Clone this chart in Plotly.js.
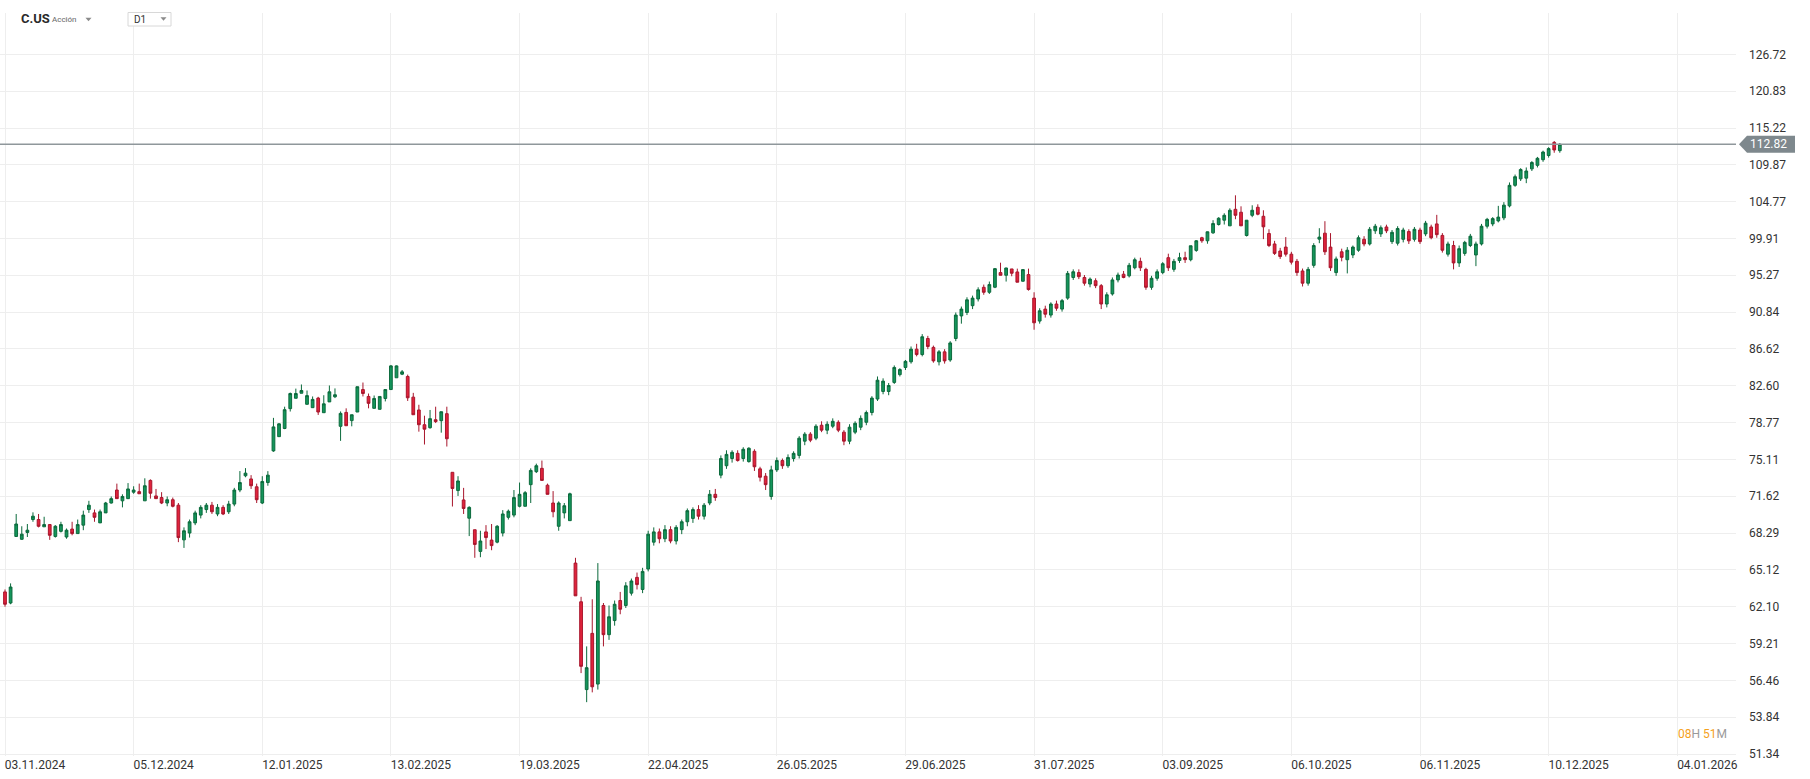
<!DOCTYPE html>
<html><head><meta charset="utf-8">
<script src="https://cdn.plot.ly/plotly-3.0.1.min.js"></script>
<style>html,body{margin:0;padding:0;background:#fff;overflow:hidden}#chart{width:1810px;height:779px}</style>
</head><body><div id="chart"></div>
<script>
// ---- data ----
const opens = [63.3,62.4,68.0,67.75,68.35,69.5,69.5,68.85,69.05,68.0,68.45,67.95,68.65,68.25,69.0,70.4,70.1,69.2,70.1,71.0,72.2,71.2,71.4,72.0,72.05,71.2,73.1,71.65,
71.5,71.0,71.3,70.8,67.7,68.3,69.2,69.9,70.4,70.8,70.0,70.6,70.2,70.9,72.2,73.54,73.24,72.5,71.0,72.9,
75.94,77.35,78.17,80.2,81.28,81.81,80.65,80.3,81.3,79.78,80.9,81.44,78.39,79.81,78.97,79.85,82.2,81.47,80.23,80.13,81.26,82.2,83.46,83.85,83.6,81.4,80.06,78.55,78.25,79.06,78.96,79.68,
73.87,72.15,71.28,69.62,68.59,66.7,68.4,67.68,67.5,68.3,69.7,69.9,70.7,70.7,72.7,73.93,74.25,72.65,71.0,68.9,70.1,69.4,
65.7,62.5,55.8,60.0,56.2,62.2,59.9,61.0,62.6,62.2,63.2,64.5,63.5,65.2,67.5,68.4,67.8,68.6,67.6,68.6,69.3,69.6,70.4,69.8,71.0,71.8,
73.6,74.5,75.2,75.7,75.2,74.9,75.9,74.2,73.5,71.6,74.1,75.0,74.5,75.2,75.5,76.9,77.6,77.2,78.5,78.0,78.4,78.8,77.8,76.9,77.8,78.3,78.8,79.8,81.2,82.0,82.0,
82.96,83.8,84.58,85.2,86.6,86.0,87.8,86.8,85.2,86.3,85.4,87.8,90.4,90.8,91.6,92.4,93.8,93.2,93.81,95.6,95.27,96.05,95.68,94.54,95.35,
92.5,89.8,91.2,90.5,91.8,91.2,92.5,95.0,95.6,95.0,94.2,94.6,94.0,91.8,93.0,94.7,95.4,95.2,96.2,97.0,96.0,93.8,94.9,95.6,97.46,96.0,97.1,97.46,97.2,98.38,100.0,99.61,
100.63,101.72,102.29,101.55,103.74,103.35,100.29,102.94,104.01,102.81,
100.55,99.2,98.3,98.8,97.9,97.0,95.8,94.3,96.5,99.82,100.59,98.8,95.6,98.2,97.2,97.8,98.4,99.8,99.2,100.9,100.5,101.4,99.5,99.3,99.8,100.8,99.8,101.0,100.5,101.4,101.8,100.3,
97.9,99.0,96.8,98.0,99.0,97.8,99.2,101.5,101.8,102.2,102.6,104.2,107.0,107.9,108.0,109.3,109.8,110.6,111.2,113.1,111.9];
const highs = [63.5,64.0,70.0,68.9,69.1,70.15,70.0,69.75,69.1,69.0,69.3,68.7,69.3,69.5,70.3,71.2,70.4,70.4,71.1,71.6,72.8,71.8,72.85,72.55,72.8,73.3,73.2,72.3,
72.0,71.6,71.5,71.0,68.8,69.5,70.3,70.8,71.0,71.1,70.9,70.8,71.2,72.4,73.99,74.27,73.6,72.8,73.5,73.98,
79.25,78.7,80.4,81.88,82.3,82.74,82.1,81.47,81.43,81.6,82.63,82.32,79.91,80.23,79.57,82.5,82.95,81.78,81.57,81.47,82.2,84.85,84.8,84.3,83.8,81.85,80.6,79.47,80.06,80.4,79.88,80.4,
73.87,73.5,72.4,70.7,68.59,68.5,69.0,69.1,69.0,70.35,70.4,72.2,72.9,72.1,74.25,74.7,75.0,72.8,72.1,71.15,71.0,71.95,
66.15,62.9,59.0,62.7,65.7,62.4,62.2,62.6,63.3,64.1,64.4,64.9,65.3,68.5,68.8,68.7,69.0,68.9,69.0,69.5,70.5,70.6,70.8,71.0,72.2,72.3,
75.5,76.0,76.0,76.0,76.3,76.3,76.1,74.4,73.8,74.5,75.3,75.2,75.6,75.9,77.4,77.8,77.8,78.6,78.9,78.9,79.2,79.0,78.0,78.6,78.9,79.5,80.0,81.5,83.6,83.4,82.9,
84.8,84.5,85.4,86.9,87.2,88.3,88.1,87.0,86.5,86.6,87.5,90.8,91.5,92.6,92.8,93.8,94.13,94.5,96.17,96.83,96.2,96.05,96.09,96.0,96.09,
93.2,91.3,91.6,92.0,92.2,92.4,95.8,96.0,96.0,95.3,95.0,94.9,94.2,93.2,95.0,95.6,95.8,96.8,97.46,97.46,96.2,95.2,96.0,96.9,97.96,97.3,98.08,98.21,98.97,99.7,100.12,100.8,
102.29,102.69,103.21,103.87,105.63,104.14,102.29,104.28,104.41,103.61,
101.1,99.6,98.7,100.08,98.2,97.3,96.1,96.3,99.3,101.24,102.16,100.6,97.6,98.6,98.8,99.0,100.3,100.2,101.4,101.8,101.6,101.7,101.0,101.5,101.3,101.1,101.4,101.3,102.2,101.7,103.0,100.6,
99.5,99.6,99.0,99.6,100.5,99.5,101.8,102.6,102.7,104.2,104.7,107.4,108.5,109.4,109.5,110.4,111.0,111.9,112.4,113.3,113.0];
const lows = [62.1,62.3,67.95,67.7,67.95,69.3,68.8,68.85,67.7,67.9,68.35,67.8,68.1,68.25,68.55,70.1,69.3,69.2,70.1,70.95,71.4,70.6,71.4,71.85,71.85,71.2,71.4,71.4,
70.9,70.7,70.6,67.5,67.0,67.9,69.0,69.6,70.1,70.0,69.8,69.9,70.0,70.7,72.0,73.4,72.3,71.0,70.9,72.6,
75.85,77.35,78.1,79.9,81.28,81.81,80.65,80.3,79.55,79.78,80.9,81.3,76.93,78.45,78.39,79.85,81.47,80.23,80.23,80.13,80.95,82.2,83.46,83.75,81.0,79.57,77.85,76.57,78.15,78.72,77.75,76.37,
70.68,71.65,70.0,68.03,66.15,66.2,66.9,66.8,67.4,68.0,69.5,69.7,70.6,70.7,71.0,73.8,73.1,71.8,69.7,68.5,69.6,69.4,
62.98,57.0,54.9,55.6,55.8,59.0,59.5,60.6,61.5,62.0,63.0,63.5,63.2,65.0,67.2,67.4,67.5,67.4,67.3,68.2,68.9,69.2,69.5,69.5,70.8,71.2,
73.3,74.2,74.8,74.9,74.9,74.8,74.0,73.0,72.2,71.3,73.9,74.2,74.3,74.9,75.2,76.5,76.8,77.0,77.8,77.6,78.2,77.8,76.5,76.6,77.6,78.0,78.5,79.5,81.0,81.7,81.6,
82.8,83.6,84.3,85.0,85.8,85.8,86.6,85.1,84.8,85.0,85.2,87.5,89.5,90.5,91.2,92.1,92.9,93.0,93.7,95.27,94.5,95.15,94.42,94.5,93.4,
88.8,89.5,90.2,90.2,91.0,90.9,92.3,94.7,94.8,94.0,93.8,93.7,91.2,91.4,92.8,94.4,94.9,95.0,96.0,95.8,93.5,93.5,94.6,95.4,95.8,95.7,96.8,96.8,97.0,98.2,99.35,99.23,
100.51,101.59,101.72,101.55,102.42,101.55,100.16,102.69,102.94,99.82,
98.8,97.8,97.3,97.6,96.6,95.2,93.9,94.0,96.2,99.3,97.8,95.8,95.2,97.0,95.5,97.4,98.2,98.9,99.0,100.5,100.1,100.6,99.2,99.0,99.4,99.2,99.5,99.2,100.2,99.8,100.0,98.1,
97.6,96.0,96.3,97.7,98.8,96.4,99.0,101.2,101.5,102.0,102.3,104.0,106.8,107.6,107.3,109.0,109.5,110.3,110.9,111.6,111.6];
const closes = [62.3,63.7,69.1,68.2,68.55,69.8,68.9,69.05,68.1,68.9,69.05,68.55,68.25,69.05,69.9,70.8,69.7,70.2,71.0,71.4,71.4,71.6,72.3,72.2,71.85,72.6,71.9,71.4,
71.0,71.3,70.7,67.9,68.5,69.3,70.1,70.6,70.8,70.2,70.6,70.0,70.9,72.2,72.9,73.79,72.6,71.3,73.0,73.6,
78.33,78.64,80.09,81.78,81.78,82.1,81.56,81.16,79.85,80.7,81.96,81.65,79.71,78.45,79.57,82.5,81.78,80.75,81.26,81.47,82.2,84.75,84.75,84.1,81.33,79.57,78.55,78.1,79.17,78.87,79.88,77.14,
72.34,73.05,70.5,70.6,67.3,67.6,67.9,67.2,68.9,70.0,70.25,71.5,71.8,71.95,74.05,74.5,73.1,71.8,70.2,71.0,70.75,71.85,
62.98,57.5,57.4,56.0,64.2,59.9,61.3,62.3,61.9,63.8,64.2,63.9,65.0,68.2,68.4,67.8,68.6,67.6,68.8,69.3,70.3,70.4,69.8,70.8,71.8,71.5,
75.2,75.6,75.8,75.0,76.1,76.2,74.4,73.4,72.7,74.1,75.0,74.5,75.3,75.7,77.2,77.6,77.0,78.4,78.0,78.6,78.9,78.0,76.9,78.3,78.7,79.2,79.8,81.3,83.2,83.1,82.63,
84.58,84.35,85.25,86.6,86.0,88.0,86.9,85.3,86.3,85.3,87.3,90.5,91.2,92.3,92.5,93.5,93.2,94.13,96.09,95.27,96.17,95.52,94.42,95.97,93.53,
89.6,91.0,90.6,91.8,91.3,92.2,95.5,95.7,95.1,94.3,94.8,94.0,91.8,92.9,94.7,95.3,95.0,96.5,97.2,96.2,93.8,94.9,95.7,96.7,96.2,97.0,97.46,97.21,98.97,99.61,99.61,100.77,
101.85,102.55,102.94,103.61,102.94,101.55,102.29,103.61,103.08,101.42,
99.0,98.0,97.6,97.9,96.9,95.6,94.3,96.0,99.0,100.08,98.2,96.2,97.3,97.5,98.4,98.8,100.0,99.2,101.1,101.5,101.3,100.9,100.7,101.2,101.0,99.6,101.1,99.5,101.9,100.0,100.4,98.4,
99.2,96.8,98.6,99.4,100.2,99.2,101.5,102.4,102.5,102.7,104.3,107.0,108.2,109.2,109.0,110.2,110.8,111.7,112.2,112.0,112.82];

const xTickIndex = [0,23,46,69,92,115,138,161,184,207,230,253,276,299];
const xTickLabels = ["03.11.2024","05.12.2024","12.01.2025","13.02.2025","19.03.2025","22.04.2025","26.05.2025","29.06.2025","31.07.2025","03.09.2025","06.10.2025","06.11.2025","10.12.2025","04.01.2026"];
const yTickValues = [126.72,120.83,115.22,109.87,104.77,99.91,95.27,90.84,86.62,82.60,78.77,75.11,71.62,68.29,65.12,62.10,59.21,56.46,53.84,51.34];
const yTickLabels = ["126.72","120.83","115.22","109.87","104.77","99.91","95.27","90.84","86.62","82.60","78.77","75.11","71.62","68.29","65.12","62.10","59.21","56.46","53.84","51.34"];
const symbolName = "C.US";
const assetType = "Acción";
const timeframe = "D1";
const countdownHours = "08";
const countdownMinutes = "51";

// ---- layout helpers ----
const W = 1810, H = 779;
const M = {l: 0, r: 74, t: 13, b: 23};
const plotW = W - M.l - M.r, plotH = H - M.t - M.b;
const pX = px => (px - M.l) / plotW;
const pY = py => (H - M.b - py) / plotH;
const idx = closes.map((_, i) => i);
const lastClose = closes[closes.length - 1];
const FONT = 'Roboto, "Open Sans", sans-serif';

function downTri(cx, cy, w, h, color) {
  const x0 = pX(cx - w / 2), x1 = pX(cx + w / 2), xm = pX(cx);
  const yt = pY(cy - h / 2), yb = pY(cy + h / 2);
  return {type: 'path', xref: 'paper', yref: 'paper', layer: 'above',
    path: `M ${x0} ${yt} L ${x1} ${yt} L ${xm} ${yb} Z`, fillcolor: color, line: {width: 0}};
}

const trace = {
  type: 'candlestick', x: idx, open: opens, high: highs, low: lows, close: closes,
  increasing: {line: {color: '#0b6a3c', width: 1}, fillcolor: '#14955b'},
  decreasing: {line: {color: '#a8162c', width: 1}, fillcolor: '#e1233c'},
  whiskerwidth: 0, hoverinfo: 'skip'
};

const layout = {
  width: W, height: H, margin: M, showlegend: false,
  paper_bgcolor: '#ffffff', plot_bgcolor: '#ffffff',
  font: {family: FONT, size: 12, color: '#333'},
  xaxis: {
    range: [-0.894, 309.5], tickmode: 'array', tickvals: xTickIndex, ticktext: xTickLabels,
    showgrid: true, gridcolor: '#eeeeee', gridwidth: 1, zeroline: false, showline: false,
    ticks: '', ticklabelshift: 30, ticklabelstandoff: 0,
    tickfont: {family: FONT, size: 12, color: '#333'},
    rangeslider: {visible: false}, fixedrange: true
  },
  yaxis: {
    type: 'log', side: 'right', range: [1.70939, 2.12602],
    tickmode: 'array', tickvals: yTickValues, ticktext: yTickLabels,
    showgrid: true, gridcolor: '#eeeeee', gridwidth: 1, zeroline: false, showline: false,
    ticks: '', ticklabelstandoff: 12,
    tickfont: {family: FONT, size: 12, color: '#333'}, fixedrange: true
  },
  shapes: [
    {type: 'line', xref: 'paper', x0: 0, x1: 1, yref: 'y', y0: lastClose, y1: lastClose,
     line: {color: '#8f979b', width: 1.5}, layer: 'above'},
    {type: 'path', xref: 'paper', xsizemode: 'pixel', xanchor: 1, yref: 'y', ysizemode: 'pixel', yanchor: lastClose,
     path: 'M 3 0 L 11 -8.5 L 59 -8.5 L 59 8.5 L 11 8.5 Z', fillcolor: '#7e888d', line: {width: 0}, layer: 'above'},
    {type: 'rect', xref: 'paper', yref: 'paper', x0: pX(128), x1: pX(171), y0: pY(26), y1: pY(12.5),
     line: {color: '#d8d8d8', width: 1}, fillcolor: '#ffffff', layer: 'above'},
    downTri(88.5, 19.5, 6, 3.5, '#8a8a8a'),
    downTri(163.5, 19, 6, 3.5, '#8a8a8a')
  ],
  annotations: [
    {xref: 'paper', yref: 'y', x: 1, y: Math.log10(lastClose), xanchor: 'left', yanchor: 'middle', xshift: 12,
     text: lastClose.toFixed(2), showarrow: false, font: {family: FONT, size: 12, color: '#ffffff'}},
    {xref: 'paper', yref: 'paper', x: pX(19), y: pY(18.5), xanchor: 'left', yanchor: 'middle',
     text: '<b>' + symbolName + '</b>', showarrow: false, font: {family: FONT, size: 13, color: '#2a2a2a'}},
    {xref: 'paper', yref: 'paper', x: pX(50), y: pY(19), xanchor: 'left', yanchor: 'middle',
     text: assetType, showarrow: false, font: {family: FONT, size: 8, color: '#666'}},
    {xref: 'paper', yref: 'paper', x: pX(132), y: pY(19.5), xanchor: 'left', yanchor: 'middle',
     text: timeframe, showarrow: false, font: {family: FONT, size: 10, color: '#333'}},
    {xref: 'paper', yref: 'paper', x: pX(1729), y: pY(734), xanchor: 'right', yanchor: 'middle',
     text: '<span style="color:#f5a11c">' + countdownHours + '</span><span style="color:#9a9a9a">H</span> <span style="color:#f5a11c">' + countdownMinutes + '</span><span style="color:#9a9a9a">M</span>',
     showarrow: false, font: {family: FONT, size: 12, color: '#9a9a9a'}}
  ]
};

Plotly.newPlot('chart', [trace], layout, {displayModeBar: false, staticPlot: true});
</script>
</body></html>
